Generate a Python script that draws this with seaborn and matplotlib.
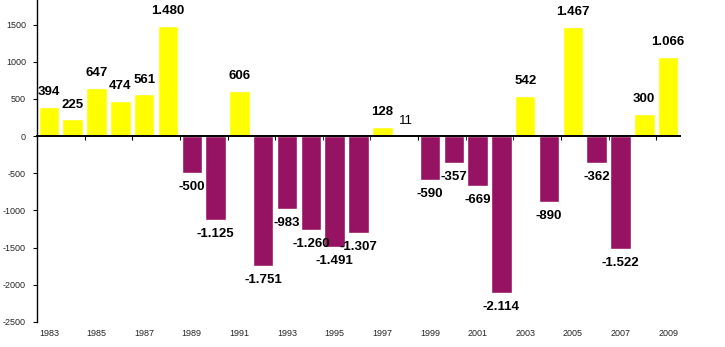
import matplotlib
matplotlib.use("Agg")
import matplotlib.pyplot as plt
import seaborn as sns
import pandas as pd
import numpy as np

years = list(range(1983, 2010))
values = [394, 225, 647, 474, 561, 1480, -500, -1125, 606, -1751, -983, -1260,
          -1491, -1307, 128, 11, -590, -357, -669, -2114, 542, -890, 1467, -362,
          -1522, 300, 1066]
yticks = [-2500, -2000, -1500, -1000, -500, 0, 500, 1000, 1500]

pos_color = "#FFFF00"
neg_color = "#961262"

df = pd.DataFrame({"year": [str(y) for y in years], "value": values})
df["sign"] = np.where(df["value"] >= 0, "pos", "neg")

sns.set_style("white")
plt.rcParams["font.family"] = ["Liberation Sans", "DejaVu Sans"]

fig = plt.figure(figsize=(7.25, 3.47), dpi=100)
ax = fig.add_axes([37 / 725, 1 - 322 / 347, (680 - 37) / 725, 322 / 347])

sns.barplot(data=df, x="year", y="value", hue="sign",
            palette={"pos": pos_color, "neg": neg_color},
            dodge=False, legend=False, width=0.86, saturation=1,
            order=df["year"].tolist(), ax=ax)

ax.set_xlim(-0.5, len(years) - 0.5)
ax.set_ylim(-2500, 1830)
ax.set_yticks(yticks)
ax.set_yticklabels([str(t) for t in yticks], fontsize=6.5)
ax.tick_params(axis="y", direction="out", length=3, width=0.8, pad=5,
               left=True, color="black")

for side in ["top", "right"]:
    ax.spines[side].set_visible(False)
ax.spines["left"].set_color("black")
ax.spines["left"].set_linewidth(1.0)
ax.spines["bottom"].set_position(("data", 0))
ax.spines["bottom"].set_color("black")
ax.spines["bottom"].set_linewidth(1.4)
ax.spines["bottom"].set_zorder(5)

# ticks at category boundaries, every two categories
ax.set_xticks(np.arange(1.5, len(years) - 1, 2))
ax.set_xticklabels([])
ax.tick_params(axis="x", direction="out", length=3, width=0.8, bottom=True,
               color="black")
ax.set_xlabel("")
ax.set_ylabel("")

# year labels along the bottom
for i, y in enumerate(years):
    if i % 2 == 0:
        ax.text(i, -0.037, str(y), transform=ax.get_xaxis_transform(),
                ha="center", va="center", fontsize=6.5)

def fmt(v):
    return f"{v:,}".replace(",", ".")

for i, v in enumerate(values):
    off = 10.5 if v >= 0 else -10
    weight = "normal" if abs(v) < 50 else "bold"
    ax.annotate(fmt(v), (i, v), xytext=(0, off), textcoords="offset points",
                ha="center", va="center", fontsize=9.5, fontweight=weight,
                color="black", zorder=6, annotation_clip=False)

fig.savefig("out.png", dpi=100)
